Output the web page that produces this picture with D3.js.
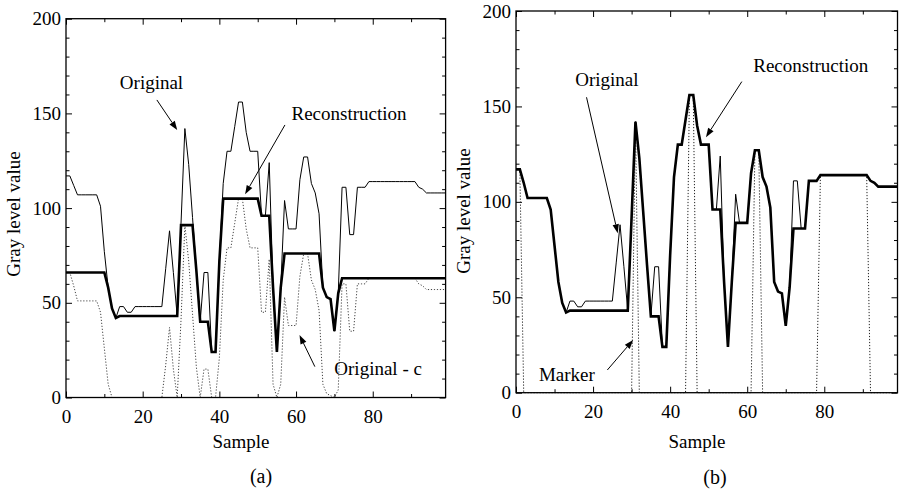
<!DOCTYPE html>
<html><head><meta charset="utf-8">
<script src="https://cdn.jsdelivr.net/npm/d3@7"></script>
<style>body{margin:0;background:#fff}svg{display:block}</style>
</head><body><svg id="c" width="900" height="496"></svg>
<script>
// ---- data (sample index = array position) ----
const origA = [117,117,112,107,107,107,107,107,107,101,
  77,58,47,42,48,48,45,45,48,48,
  48,48,48,48,48,48,68,88,66,43,
  92,142,123,95,67,40,66,66,24,24,
  72,113,130,130,143,156,156,140,130,130,
  130,96,96,124,58,24,58,104,89,89,
  89,115,127,127,113,108,97,58,53,52,
  35,55,111,111,86,86,111,111,111,114,
  114,114,114,114,114,114,114,114,114,114,
  114,114,111,110,108,108,108,108,108,108];
const reconA = [66,66,66,66,66,66,66,66,66,66,
  66,58,47,42,43,43,43,43,43,43,
  43,43,43,43,43,43,43,43,43,43,
  91,91,91,91,67,40,40,40,24,24,
  72,105,105,105,105,105,105,105,105,105,
  105,96,96,96,58,24,58,76,76,76,
  76,76,76,76,76,76,76,58,53,52,
  35,55,63,63,63,63,63,63,63,63,
  63,63,63,63,63,63,63,63,63,63,
  63,63,63,63,63,63,63,63,63,63];
const diffA = [66,66,59,51,51,51,51,51,51,45,
  26,7,0,0,0,0,0,0,0,0,
  0,0,0,0,0,0,17,37,15,0,
  41,91,72,44,16,0,15,15,0,0,
  21,62,79,79,92,105,105,89,79,79,
  79,45,45,73,7,0,7,53,38,38,
  38,64,76,76,62,57,46,7,2,1,
  0,4,60,60,35,35,60,60,60,63,
  63,63,63,63,63,63,63,63,63,63,
  63,63,60,59,57,57,57,57,57,57];
const origB = [117,117,110,102,102,102,102,102,102,96,
  77,58,47,42,48,48,45,45,48,48,
  48,48,48,48,48,48,68,88,66,43,
  92,142,123,95,67,40,66,66,24,24,
  72,113,130,130,143,156,156,140,130,130,
  130,96,96,124,58,24,58,104,89,89,
  89,115,127,127,113,108,97,58,53,52,
  35,55,111,111,86,86,111,111,111,114,
  114,114,114,114,114,114,114,114,114,114,
  114,114,111,110,108,108,108,108,108,108];
const reconB = [117,117,110,102,102,102,102,102,102,96,
  77,58,47,42,43,43,43,43,43,43,
  43,43,43,43,43,43,43,43,43,43,
  92,142,123,95,67,40,40,40,24,24,
  72,113,130,130,143,156,156,140,130,130,
  130,96,96,96,58,24,58,89,89,89,
  89,115,127,127,113,108,97,58,53,52,
  35,55,86,86,86,86,111,111,111,114,
  114,114,114,114,114,114,114,114,114,114,
  114,114,111,110,108,108,108,108,108,108];
const markerB = [117,117,0,0,0,0,0,0,0,0,
  0,0,0,0,0,0,0,0,0,0,
  0,0,0,0,0,0,0,0,0,0,
  0,142,0,0,0,0,0,0,0,0,
  0,0,0,0,0,156,156,0,0,0,
  0,0,0,0,0,0,0,0,0,0,
  0,0,127,127,0,0,0,0,0,0,
  0,0,0,0,0,0,0,0,0,114,
  114,114,114,114,114,114,114,114,114,114,
  114,114,0,0,0,0,0,0,0,0];
const xMajor = [0,20,40,60,80];
const xMinor = [10,30,50,70,90];
const yMajor = [0,50,100,150,200];
const yMinor = [10,20,30,40,60,70,80,90,110,120,130,140,160,170,180,190];
const xDomain = [0,99], yDomain = [0,200];

const FONT = "'Liberation Serif','Times New Roman',serif";
const svg = d3.select('#c');
svg.append('rect').attr('width',900).attr('height',496).attr('fill','#fff');

function panel(cfg){
  const g = svg.append('g').attr('transform',`translate(${cfg.left},${cfg.top})`);
  const w = cfg.w, h = cfg.h;
  const x = d3.scaleLinear().domain(xDomain).range([0,w]);
  const y = d3.scaleLinear().domain(yDomain).range([h,0]);
  const fmt = d3.format('d');
  const ax = (sel)=>{ sel.select('.domain').remove(); sel.selectAll('line').attr('stroke','#000').attr('stroke-width',1);
    sel.selectAll('text').attr('font-family',FONT).attr('font-size',19).attr('fill','#000'); };
  g.append('g').attr('transform',`translate(0,${h})`).call(d3.axisBottom(x).tickValues(xMajor).tickSize(-6).tickPadding(12).tickFormat(fmt)).call(ax);
  g.append('g').attr('transform',`translate(0,${h})`).call(d3.axisBottom(x).tickValues(xMinor).tickSize(-3.5).tickFormat('')).call(ax);
  g.append('g').call(d3.axisTop(x).tickValues(xMajor).tickSize(-6).tickFormat('')).call(ax);
  g.append('g').call(d3.axisTop(x).tickValues(xMinor).tickSize(-3.5).tickFormat('')).call(ax);
  g.append('g').call(d3.axisLeft(y).tickValues(yMajor).tickSize(-6).tickPadding(5).tickFormat(fmt)).call(ax);
  g.append('g').call(d3.axisLeft(y).tickValues(yMinor).tickSize(-3.5).tickFormat('')).call(ax);
  g.append('g').attr('transform',`translate(${w},0)`).call(d3.axisRight(y).tickValues(yMajor).tickSize(-6).tickFormat('')).call(ax);
  g.append('g').attr('transform',`translate(${w},0)`).call(d3.axisRight(y).tickValues(yMinor).tickSize(-3.5).tickFormat('')).call(ax);

  const line = d3.line().x((d,i)=>x(i)).y(d=>y(d));
  cfg.series.forEach(s=>{
    g.append('path').attr('d',line(s.data)).attr('fill','none')
      .attr('stroke',s.color).attr('stroke-width',s.width)
      .attr('stroke-dasharray',s.dash||null).attr('stroke-linejoin','miter');
  });
  g.append('rect').attr('width',w).attr('height',h).attr('fill','none').attr('stroke','#000').attr('stroke-width',1.3);

  cfg.notes.forEach(n=>{
    g.append('text').attr('x',x(n.tx)).attr('y',y(n.ty)).attr('text-anchor','middle')
      .attr('font-family',FONT).attr('font-size',19).text(n.text);
    const x1=x(n.a[0]), y1=y(n.a[1]), x2=x(n.a[2]), y2=y(n.a[3]);
    const ang=Math.atan2(y2-y1,x2-x1), L=9, hw=3.2;
    const bx=x2-L*Math.cos(ang), by=y2-L*Math.sin(ang);
    g.append('line').attr('x1',x1).attr('y1',y1).attr('x2',bx).attr('y2',by).attr('stroke','#000').attr('stroke-width',1);
    g.append('path').attr('d',`M${x2},${y2}L${bx+hw*Math.sin(ang)},${by-hw*Math.cos(ang)}L${bx-hw*Math.sin(ang)},${by+hw*Math.cos(ang)}Z`).attr('fill','#000');
  });

  svg.append('text').attr('transform',`translate(${cfg.ylab[0]},${cfg.ylab[1]}) rotate(-90)`)
    .attr('text-anchor','middle').attr('dominant-baseline','middle')
    .attr('font-family',FONT).attr('font-size',19).text('Gray level value');
  svg.append('text').attr('x',cfg.xlab[0]).attr('y',cfg.xlab[1]).attr('text-anchor','middle')
    .attr('font-family',FONT).attr('font-size',19).text('Sample');
  svg.append('text').attr('x',cfg.cap[0]).attr('y',cfg.cap[1]).attr('text-anchor','middle')
    .attr('font-family',FONT).attr('font-size',20).text(cfg.caption);
}

panel({left:66, top:18.7, w:379.6, h:378.8,
  series:[
    {data:diffA, color:'#444', width:1, dash:'1.2 1.8'},
    {data:origA, color:'#000', width:1},
    {data:reconA, color:'#000', width:2.6}
  ],
  notes:[
    {text:'Original', tx:22.3, ty:162.8, a:[23.7,157.1,29.0,141.2]},
    {text:'Reconstruction', tx:73.8, ty:146.5, a:[57.1,143.9,46.7,107.3]},
    {text:'Original - c', tx:81.4, ty:11.9, a:[64.9,16.3,60.9,33.0]}
  ],
  ylab:[16,214], xlab:[241,448], cap:[261,483], caption:'(a)'});

panel({left:516, top:11, w:381.5, h:381.7,
  series:[
    {data:markerB, color:'#222', width:1, dash:'1.2 1.8'},
    {data:origB, color:'#000', width:1},
    {data:reconB, color:'#000', width:2.6}
  ],
  notes:[
    {text:'Original', tx:23.6, ty:160.5, a:[18.3,154.8,26.4,83.5]},
    {text:'Reconstruction', tx:76.5, ty:167.8, a:[58.6,163,49.3,133.9]},
    {text:'Marker', tx:13.2, ty:6.1, a:[23.7,11.9,30.4,27.6]}
  ],
  ylab:[466,211], xlab:[697,448], cap:[715,484], caption:'(b)'});
</script></body></html>
